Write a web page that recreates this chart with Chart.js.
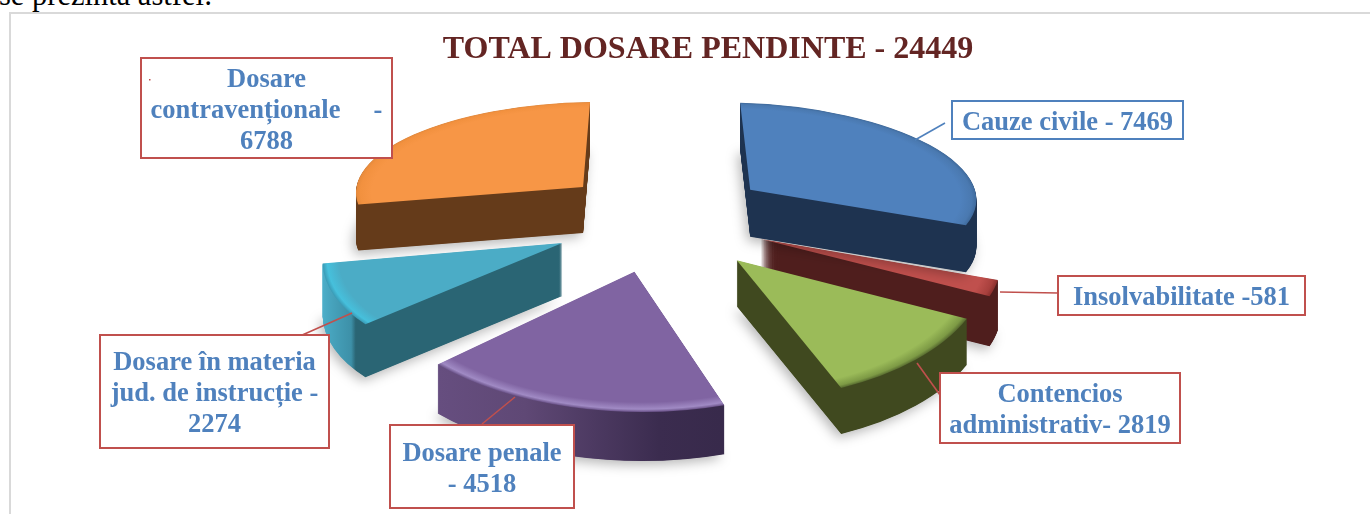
<!DOCTYPE html>
<html lang="ro"><head><meta charset="utf-8">
<style>
html,body{margin:0;padding:0;background:#fff;overflow:hidden;width:1370px;height:514px}
#intro{position:absolute;left:-1px;top:-22px;font:30.5px "Liberation Serif",serif;color:#000;white-space:nowrap}
#frame{position:absolute;left:9px;top:12px;width:1400px;height:600px;border:2px solid #d9d9d9;box-sizing:border-box}
#wrap{position:absolute;left:0;top:0;width:1370px;height:514px}
</style>
<script src="https://cdn.jsdelivr.net/npm/chart.js@4"></script>
</head><body>
<div id="intro">se prezintă astfel:</div>
<div id="frame"></div>
<div id="wrap"><canvas id="c" width="1370" height="514"></canvas></div>
<script>
const categories = ["Cauze civile","Insolvabilitate","Contencios administrativ","Dosare penale","Dosare în materia jud. de instrucție","Dosare contravenționale"];
const values = [7469,581,2819,4518,2274,6788];
const chartTitle = "TOTAL DOSARE PENDINTE - 24449";
const labelLines = [
  ["Cauze civile - 7469"],
  ["Insolvabilitate -581"],
  ["Contencios","administrativ- 2819"],
  ["Dosare penale","- 4518"],
  ["Dosare în materia","jud. de instrucție -","2274"],
  ["Dosare","contravenționale     -","6788"]
];
// styling and placement of the 3D look
const topColors  = ["#4f81bd","#c0504d","#9bbb59","#8064a2","#4bacc6","#f79646"];
const rimColors  = [["#4a79b0","#3f6a9c"],["#a8403d","#8a2f2d"],["#7d9a45","#56692f"],["#a08ac4","#6a5288"],["#46c0dc","#3a9ab5"],["#f2913f","#e58a3c"]];
const sideStops  = [
  [[0,"#1e3350"],[1,"#1e3350"]],
  [[0,"#4f1e1d"],[1,"#4f1e1d"]],
  [[0,"#40491f"],[1,"#40491f"]],
  [[0,"#6c5388"],[0.3,"#5f4875"],[0.55,"#3b2c4f"],[1,"#2f2440"]],
  [[0,"#4eb2cd"],[0.1,"#3d90a8"],[0.112,"#2a6574"],[1,"#2a6574"]],
  [[0,"#653b1a"],[1,"#653b1a"]]
];
const explodeX = [104,105,110,133,115,107];
const explodeY = [70,22,40,43,29,67];
const radiusX  = [226,236,251,269,237,227];
const radiusY  = [87,120,139,140,118,85];
const skewX    = [10,45,20,-2,-36,-7];
const skewY    = [6,0,-9,5,0,-3];
const depth    = [47,50,46,49,53,46];
const drawOrder = [1,0,2,5,4,3];
const pieCentre = {x:665,y:230};
const boxes = [
  {x:952,y:101,w:231,h:38,c:"#4f81bd"},
  {x:1058,y:276,w:247,h:39,c:"#c0504d"},
  {x:940,y:373,w:240,h:70,c:"#c0504d"},
  {x:390,y:425,w:184,h:83,c:"#c0504d"},
  {x:100,y:335,w:229,h:113,c:"#c0504d"},
  {x:141,y:58,w:251,h:100,c:"#c0504d"}
];
const leaders = [
  {a:[945,123],b:[915,140],c:"#4f81bd"},
  {a:[1000,292],b:[1058,293],c:"#c0504d"},
  {a:[917,363],b:[940,395],c:"#c0504d"},
  {a:[515,397],b:[482,424],c:"#c0504d"},
  {a:[352,313],b:[300,336],c:"#c0504d"}
];

const pie3d = {
  id:"pie3d",
  beforeDatasetDraw(chart,args){
    const ctx = chart.ctx, arcs = args.meta.data;
    drawOrder.forEach(i=>{
      const el = arcs[i], R = el.outerRadius, mid = (el.startAngle+el.endAngle)/2;
      const ax = pieCentre.x + explodeX[i]*Math.cos(mid);
      const ay = pieCentre.y + explodeY[i]*Math.sin(mid);
      const place = dy => {
        ctx.setTransform(radiusX[i]/R,skewY[i]/R,skewX[i]/R,radiusY[i]/R,ax,ay+dy);
        ctx.translate(-el.x,-el.y);
      };
      const paint = fill => {
        const clone = Object.create(el);
        clone.options = Object.assign({},el.options,{backgroundColor:fill,borderWidth:0,offset:0});
        clone.draw(ctx);
      };
      ctx.save();
      const side = ctx.createLinearGradient(el.x-R,0,el.x+R,0);
      sideStops[i].forEach(s=>side.addColorStop(s[0],s[1]));
      for(let d=depth[i];d>0;d-=0.5){
        place(d);
        if(d===depth[i]){
          ctx.shadowColor="rgba(0,0,0,0.28)";ctx.shadowBlur=12;ctx.shadowOffsetX=-3;ctx.shadowOffsetY=4;
        }else{ctx.shadowColor="transparent";ctx.shadowBlur=0;ctx.shadowOffsetX=0;ctx.shadowOffsetY=0;}
        paint(side);
      }
      place(0);
      const top = ctx.createRadialGradient(el.x,el.y,0,el.x,el.y,R);
      top.addColorStop(0,topColors[i]);
      top.addColorStop(0.93,topColors[i]);
      top.addColorStop(0.98,rimColors[i][0]);
      top.addColorStop(1,rimColors[i][1]);
      paint(top);
      ctx.restore();
    });
    return false;
  },
  afterDraw(chart){
    const ctx = chart.ctx;
    ctx.save();
    leaders.forEach(l=>{
      ctx.strokeStyle=l.c;ctx.lineWidth=1.6;
      ctx.beginPath();ctx.moveTo(l.a[0],l.a[1]);ctx.lineTo(l.b[0],l.b[1]);ctx.stroke();
    });
    ctx.font='bold 26.5px "Liberation Serif", serif';
    ctx.textAlign="center";ctx.textBaseline="middle";
    boxes.forEach((b,i)=>{
      ctx.fillStyle="#fff";ctx.fillRect(b.x,b.y,b.w,b.h);
      ctx.strokeStyle=b.c;ctx.lineWidth=2;ctx.strokeRect(b.x,b.y,b.w,b.h);
      ctx.fillStyle="#4f81bd";
      const lines = labelLines[i], lh = 31;
      const y0 = b.y+b.h/2-(lines.length-1)*lh/2+3;
      lines.forEach((t,k)=>ctx.fillText(t,b.x+b.w/2,y0+k*lh));
    });
    ctx.fillStyle="#c0504d";ctx.fillRect(149,79,1.5,1.5);
    ctx.restore();
  }
};

new Chart(document.getElementById("c"),{
  type:"pie",
  data:{labels:categories,datasets:[{data:values,backgroundColor:topColors,borderWidth:0,clip:false}]},
  options:{
    responsive:false,animation:false,
    layout:{padding:{left:46}},
    plugins:{
      legend:{display:false},tooltip:{enabled:false},
      title:{display:true,text:chartTitle,fullSize:false,color:"#632523",
        font:{family:'"Liberation Serif", serif',size:32,weight:"bold"},padding:{top:31,bottom:0}}
    }
  },
  plugins:[pie3d]
});
</script>
</body></html>
